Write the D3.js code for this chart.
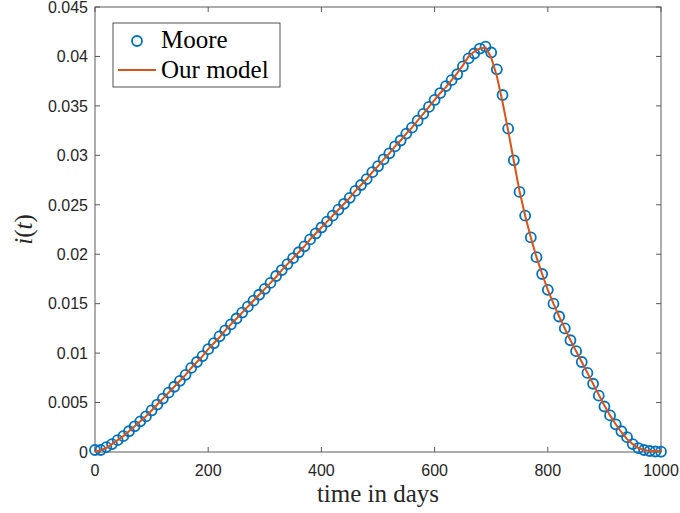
<!DOCTYPE html>
<html><head><meta charset="utf-8">
<script src="https://cdn.jsdelivr.net/npm/d3@7"></script>
<style>body{margin:0;background:#fff}</style></head>
<body><svg id="c" width="680" height="513"></svg>
<script>
const days = d3.range(0, 1001, 10);
const moore = [0.0002,0.0002,0.0005,0.0008,0.0012,0.0016,0.0021,0.0026,0.0031,0.0036,
0.0042,0.0048,0.0054,0.0060,0.0066,0.0072,0.0078,0.0085,0.0091,0.0097,
0.0104,0.0110,0.0117,0.0123,0.0129,0.0135,0.0141,0.0147,0.0153,0.0159,
0.0165,0.0171,0.0178,0.0184,0.0190,0.0196,0.0202,0.0208,0.0215,0.0221,
0.0227,0.0233,0.0239,0.0245,0.0251,0.0257,0.0264,0.0270,0.0276,0.0283,
0.0289,0.0296,0.0302,0.0309,0.0315,0.0322,0.0328,0.0335,0.0342,0.0349,
0.0356,0.0363,0.0370,0.0376,0.0382,0.0390,0.0398,0.0403,0.0408,0.0410,
0.0404,0.0387,0.0361,0.0327,0.0295,0.0263,0.0239,0.0217,0.0197,0.0180,
0.0164,0.0150,0.0137,0.0125,0.0113,0.0102,0.0091,0.0080,0.0069,0.0057,
0.0046,0.0037,0.0028,0.0021,0.0015,0.0008,0.0004,0.0002,0.0001,0.00005,0.00003];
const model = [0.0000,0.0002,0.0004,0.0008,0.0012,0.0016,0.0021,0.0026,0.0031,0.0036,
0.0042,0.0048,0.0054,0.0060,0.0066,0.0072,0.0078,0.0085,0.0091,0.0097,
0.0104,0.0110,0.0116,0.0123,0.0129,0.0135,0.0141,0.0147,0.0153,0.0159,
0.0165,0.0171,0.0177,0.0184,0.0190,0.0196,0.0202,0.0208,0.0215,0.0221,
0.0227,0.0233,0.0239,0.0245,0.0251,0.0257,0.0264,0.0270,0.0276,0.0283,
0.0289,0.0296,0.0302,0.0309,0.0315,0.0322,0.0328,0.0335,0.0342,0.0349,
0.0356,0.0363,0.0369,0.0376,0.0383,0.0391,0.0400,0.0405,0.0408,0.0409,
0.0399,0.0380,0.0354,0.0325,0.0294,0.0264,0.0239,0.0217,0.0197,0.0180,
0.0164,0.0150,0.0137,0.0125,0.0113,0.0102,0.0091,0.0080,0.0069,0.0058,
0.0047,0.0037,0.0028,0.0020,0.0013,0.0008,0.0004,0.0002,0.0001,0.0001,0.0001];
const xTicks = [0, 200, 400, 600, 800, 1000];
const yTicks = [0,0.005,0.01,0.015,0.02,0.025,0.03,0.035,0.04,0.045];
const yTickLabels = ["0","0.005","0.01","0.015","0.02","0.025","0.03","0.035","0.04","0.045"];
const seriesNames = ["Moore", "Our model"];

const L=95, R=661, T=7, B=452;
const x = d3.scaleLinear().domain([0,1000]).range([L,R]);
const y = d3.scaleLinear().domain([0,0.045]).range([B,T]);
const svg = d3.select("#c");
const axisCol = "#262626";
const boxCol = "#5a5a5a";
const blue = "#0072BD", orange = "#D95319";
const MR = 5, MW = 1.8;

const g = svg.append("g");
const tl = 5;
xTicks.forEach(t=>{
  g.append("line").attr("x1",x(t)).attr("x2",x(t)).attr("y1",B).attr("y2",B-tl).attr("stroke",boxCol).attr("stroke-width",1);
  g.append("line").attr("x1",x(t)).attr("x2",x(t)).attr("y1",T).attr("y2",T+tl).attr("stroke",boxCol).attr("stroke-width",1);
  g.append("text").attr("x",x(t)).attr("y",B+24).attr("text-anchor","middle")
   .attr("font-family","Liberation Sans, Arial, sans-serif").attr("font-size",16).attr("fill",axisCol).text(t);
});
yTicks.forEach((t,i)=>{
  g.append("line").attr("x1",L).attr("x2",L+tl).attr("y1",y(t)).attr("y2",y(t)).attr("stroke",boxCol).attr("stroke-width",1);
  g.append("line").attr("x1",R).attr("x2",R-tl).attr("y1",y(t)).attr("y2",y(t)).attr("stroke",boxCol).attr("stroke-width",1);
  g.append("text").attr("x",L-7).attr("y",y(t)).attr("dy","0.36em").attr("text-anchor","end")
   .attr("font-family","Liberation Sans, Arial, sans-serif").attr("font-size",16).attr("fill",axisCol).text(yTickLabels[i]);
});
g.append("rect").attr("x",L).attr("y",T).attr("width",R-L).attr("height",B-T)
 .attr("fill","none").attr("stroke",boxCol).attr("stroke-width",1);

svg.append("g").selectAll("circle").data(days).join("circle")
  .attr("cx",(d)=>x(d)).attr("cy",(d,i)=>y(moore[i])).attr("r",MR)
  .attr("fill","none").attr("stroke",blue).attr("stroke-width",MW);
svg.append("path").datum(days).attr("fill","none").attr("stroke",orange).attr("stroke-width",2)
  .attr("d", d3.line().x(d=>x(d)).y((d,i)=>y(model[i])));

svg.append("text").attr("x",(L+R)/2).attr("y",502).attr("text-anchor","middle")
  .attr("font-family","Liberation Serif, serif").attr("font-size",25).attr("fill",axisCol).text("time in days");
svg.append("text").attr("transform",`translate(32,${(T+B)/2}) rotate(-90)`).attr("text-anchor","middle")
  .attr("font-family","Liberation Serif, serif").attr("font-size",25).attr("fill",axisCol)
  .html('<tspan font-style="italic">i</tspan>(<tspan font-style="italic">t</tspan>)');

const lg = svg.append("g");
lg.append("rect").attr("x",113).attr("y",23).attr("width",167).attr("height",64)
  .attr("fill","#fff").attr("stroke",axisCol).attr("stroke-width",0.8);
lg.append("circle").attr("cx",137).attr("cy",41).attr("r",MR).attr("fill","none").attr("stroke",blue).attr("stroke-width",MW);
lg.append("line").attr("x1",118).attr("x2",156).attr("y1",70).attr("y2",70).attr("stroke",orange).attr("stroke-width",2);
lg.append("text").attr("x",161).attr("y",48).attr("font-family","Liberation Serif, serif").attr("font-size",25).attr("fill","#000").text(seriesNames[0]);
lg.append("text").attr("x",161).attr("y",78).attr("font-family","Liberation Serif, serif").attr("font-size",25).attr("fill","#000").text(seriesNames[1]);
</script></body></html>
